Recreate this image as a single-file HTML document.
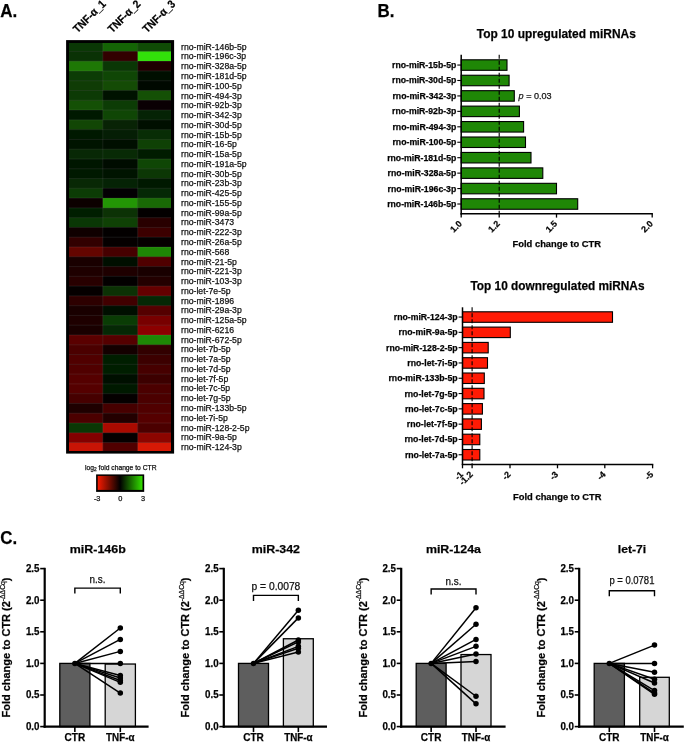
<!DOCTYPE html>
<html><head><meta charset="utf-8"><style>
html,body{margin:0;padding:0;background:#fff;}
svg{display:block;will-change:transform;}
text{font-family:"Liberation Sans",sans-serif;stroke:#111;stroke-width:0.25px;}
</style></head><body>
<svg width="685" height="742" viewBox="0 0 685 742" font-family="Liberation Sans, sans-serif">
<rect width="685" height="742" fill="#fff"/>
<text x="0.30" y="17.30" font-size="17.8" font-weight="bold" textLength="17.00" lengthAdjust="spacingAndGlyphs">A.</text>
<text x="377.60" y="17.30" font-size="17.8" font-weight="bold" textLength="16.90" lengthAdjust="spacingAndGlyphs">B.</text>
<text x="0.20" y="544.30" font-size="18.2" font-weight="bold" textLength="16.90" lengthAdjust="spacingAndGlyphs">C.</text>
<defs><clipPath id="hc"><rect x="69.1" y="43.0" width="101.9" height="408.0"/></clipPath></defs>
<rect x="66.1" y="40.1" width="108.0" height="413.5" fill="#000"/>
<g clip-path="url(#hc)">
<rect x="67.90" y="41.64" width="34.95" height="9.83" fill="rgb(10, 55, 5)"/>
<rect x="102.80" y="41.64" width="34.95" height="9.83" fill="rgb(20, 100, 5)"/>
<rect x="137.70" y="41.64" width="34.95" height="9.83" fill="rgb(15, 75, 5)"/>
<rect x="67.90" y="51.42" width="34.95" height="9.83" fill="rgb(10, 50, 5)"/>
<rect x="102.80" y="51.42" width="34.95" height="9.83" fill="rgb(50, 0, 0)"/>
<rect x="137.70" y="51.42" width="34.95" height="9.83" fill="rgb(50, 225, 10)"/>
<rect x="67.90" y="61.20" width="34.95" height="9.83" fill="rgb(30, 120, 5)"/>
<rect x="102.80" y="61.20" width="34.95" height="9.83" fill="rgb(10, 55, 5)"/>
<rect x="137.70" y="61.20" width="34.95" height="9.83" fill="rgb(30, 0, 0)"/>
<rect x="67.90" y="70.98" width="34.95" height="9.83" fill="rgb(12, 60, 5)"/>
<rect x="102.80" y="70.98" width="34.95" height="9.83" fill="rgb(15, 70, 5)"/>
<rect x="137.70" y="70.98" width="34.95" height="9.83" fill="rgb(0, 15, 0)"/>
<rect x="67.90" y="80.76" width="34.95" height="9.83" fill="rgb(15, 60, 5)"/>
<rect x="102.80" y="80.76" width="34.95" height="9.83" fill="rgb(20, 75, 5)"/>
<rect x="137.70" y="80.76" width="34.95" height="9.83" fill="rgb(0, 8, 0)"/>
<rect x="67.90" y="90.53" width="34.95" height="9.83" fill="rgb(12, 58, 5)"/>
<rect x="102.80" y="90.53" width="34.95" height="9.83" fill="rgb(0, 18, 0)"/>
<rect x="137.70" y="90.53" width="34.95" height="9.83" fill="rgb(20, 80, 5)"/>
<rect x="67.90" y="100.31" width="34.95" height="9.83" fill="rgb(20, 80, 5)"/>
<rect x="102.80" y="100.31" width="34.95" height="9.83" fill="rgb(12, 60, 5)"/>
<rect x="137.70" y="100.31" width="34.95" height="9.83" fill="rgb(10, 0, 3)"/>
<rect x="67.90" y="110.09" width="34.95" height="9.83" fill="rgb(0, 25, 0)"/>
<rect x="102.80" y="110.09" width="34.95" height="9.83" fill="rgb(15, 70, 5)"/>
<rect x="137.70" y="110.09" width="34.95" height="9.83" fill="rgb(5, 35, 5)"/>
<rect x="67.90" y="119.87" width="34.95" height="9.83" fill="rgb(18, 70, 5)"/>
<rect x="102.80" y="119.87" width="34.95" height="9.83" fill="rgb(8, 35, 5)"/>
<rect x="137.70" y="119.87" width="34.95" height="9.83" fill="rgb(0, 15, 0)"/>
<rect x="67.90" y="129.65" width="34.95" height="9.83" fill="rgb(0, 25, 0)"/>
<rect x="102.80" y="129.65" width="34.95" height="9.83" fill="rgb(5, 30, 5)"/>
<rect x="137.70" y="129.65" width="34.95" height="9.83" fill="rgb(8, 45, 5)"/>
<rect x="67.90" y="139.43" width="34.95" height="9.83" fill="rgb(0, 20, 0)"/>
<rect x="102.80" y="139.43" width="34.95" height="9.83" fill="rgb(0, 15, 0)"/>
<rect x="137.70" y="139.43" width="34.95" height="9.83" fill="rgb(15, 65, 5)"/>
<rect x="67.90" y="149.21" width="34.95" height="9.83" fill="rgb(8, 40, 5)"/>
<rect x="102.80" y="149.21" width="34.95" height="9.83" fill="rgb(8, 42, 5)"/>
<rect x="137.70" y="149.21" width="34.95" height="9.83" fill="rgb(0, 28, 0)"/>
<rect x="67.90" y="158.99" width="34.95" height="9.83" fill="rgb(0, 22, 0)"/>
<rect x="102.80" y="158.99" width="34.95" height="9.83" fill="rgb(0, 12, 0)"/>
<rect x="137.70" y="158.99" width="34.95" height="9.83" fill="rgb(15, 70, 5)"/>
<rect x="67.90" y="168.77" width="34.95" height="9.83" fill="rgb(0, 25, 0)"/>
<rect x="102.80" y="168.77" width="34.95" height="9.83" fill="rgb(0, 20, 0)"/>
<rect x="137.70" y="168.77" width="34.95" height="9.83" fill="rgb(12, 55, 5)"/>
<rect x="67.90" y="178.55" width="34.95" height="9.83" fill="rgb(8, 40, 5)"/>
<rect x="102.80" y="178.55" width="34.95" height="9.83" fill="rgb(5, 35, 5)"/>
<rect x="137.70" y="178.55" width="34.95" height="9.83" fill="rgb(0, 25, 0)"/>
<rect x="67.90" y="188.32" width="34.95" height="9.83" fill="rgb(12, 60, 5)"/>
<rect x="102.80" y="188.32" width="34.95" height="9.83" fill="rgb(3, 0, 3)"/>
<rect x="137.70" y="188.32" width="34.95" height="9.83" fill="rgb(5, 40, 5)"/>
<rect x="67.90" y="198.10" width="34.95" height="9.83" fill="rgb(12, 0, 0)"/>
<rect x="102.80" y="198.10" width="34.95" height="9.83" fill="rgb(35, 150, 5)"/>
<rect x="137.70" y="198.10" width="34.95" height="9.83" fill="rgb(25, 105, 5)"/>
<rect x="67.90" y="207.88" width="34.95" height="9.83" fill="rgb(0, 30, 0)"/>
<rect x="102.80" y="207.88" width="34.95" height="9.83" fill="rgb(12, 50, 5)"/>
<rect x="137.70" y="207.88" width="34.95" height="9.83" fill="rgb(3, 0, 0)"/>
<rect x="67.90" y="217.66" width="34.95" height="9.83" fill="rgb(10, 55, 5)"/>
<rect x="102.80" y="217.66" width="34.95" height="9.83" fill="rgb(15, 65, 5)"/>
<rect x="137.70" y="217.66" width="34.95" height="9.83" fill="rgb(40, 0, 0)"/>
<rect x="67.90" y="227.44" width="34.95" height="9.83" fill="rgb(15, 0, 0)"/>
<rect x="102.80" y="227.44" width="34.95" height="9.83" fill="rgb(3, 0, 0)"/>
<rect x="137.70" y="227.44" width="34.95" height="9.83" fill="rgb(60, 0, 0)"/>
<rect x="67.90" y="237.22" width="34.95" height="9.83" fill="rgb(50, 0, 0)"/>
<rect x="102.80" y="237.22" width="34.95" height="9.83" fill="rgb(5, 0, 0)"/>
<rect x="137.70" y="237.22" width="34.95" height="9.83" fill="rgb(5, 0, 0)"/>
<rect x="67.90" y="247.00" width="34.95" height="9.83" fill="rgb(100, 5, 0)"/>
<rect x="102.80" y="247.00" width="34.95" height="9.83" fill="rgb(70, 0, 0)"/>
<rect x="137.70" y="247.00" width="34.95" height="9.83" fill="rgb(30, 135, 5)"/>
<rect x="67.90" y="256.78" width="34.95" height="9.83" fill="rgb(25, 0, 0)"/>
<rect x="102.80" y="256.78" width="34.95" height="9.83" fill="rgb(0, 15, 0)"/>
<rect x="137.70" y="256.78" width="34.95" height="9.83" fill="rgb(80, 0, 0)"/>
<rect x="67.90" y="266.56" width="34.95" height="9.83" fill="rgb(30, 0, 0)"/>
<rect x="102.80" y="266.56" width="34.95" height="9.83" fill="rgb(30, 0, 0)"/>
<rect x="137.70" y="266.56" width="34.95" height="9.83" fill="rgb(25, 0, 0)"/>
<rect x="67.90" y="276.34" width="34.95" height="9.83" fill="rgb(40, 0, 0)"/>
<rect x="102.80" y="276.34" width="34.95" height="9.83" fill="rgb(3, 0, 0)"/>
<rect x="137.70" y="276.34" width="34.95" height="9.83" fill="rgb(35, 0, 0)"/>
<rect x="67.90" y="286.12" width="34.95" height="9.83" fill="rgb(5, 0, 0)"/>
<rect x="102.80" y="286.12" width="34.95" height="9.83" fill="rgb(12, 50, 5)"/>
<rect x="137.70" y="286.12" width="34.95" height="9.83" fill="rgb(100, 0, 0)"/>
<rect x="67.90" y="295.89" width="34.95" height="9.83" fill="rgb(45, 0, 0)"/>
<rect x="102.80" y="295.89" width="34.95" height="9.83" fill="rgb(65, 0, 0)"/>
<rect x="137.70" y="295.89" width="34.95" height="9.83" fill="rgb(5, 40, 5)"/>
<rect x="67.90" y="305.67" width="34.95" height="9.83" fill="rgb(25, 0, 0)"/>
<rect x="102.80" y="305.67" width="34.95" height="9.83" fill="rgb(0, 15, 0)"/>
<rect x="137.70" y="305.67" width="34.95" height="9.83" fill="rgb(85, 0, 0)"/>
<rect x="67.90" y="315.45" width="34.95" height="9.83" fill="rgb(30, 0, 0)"/>
<rect x="102.80" y="315.45" width="34.95" height="9.83" fill="rgb(10, 60, 5)"/>
<rect x="137.70" y="315.45" width="34.95" height="9.83" fill="rgb(120, 0, 0)"/>
<rect x="67.90" y="325.23" width="34.95" height="9.83" fill="rgb(25, 0, 0)"/>
<rect x="102.80" y="325.23" width="34.95" height="9.83" fill="rgb(5, 40, 5)"/>
<rect x="137.70" y="325.23" width="34.95" height="9.83" fill="rgb(140, 0, 0)"/>
<rect x="67.90" y="335.01" width="34.95" height="9.83" fill="rgb(90, 0, 0)"/>
<rect x="102.80" y="335.01" width="34.95" height="9.83" fill="rgb(85, 0, 0)"/>
<rect x="137.70" y="335.01" width="34.95" height="9.83" fill="rgb(30, 135, 5)"/>
<rect x="67.90" y="344.79" width="34.95" height="9.83" fill="rgb(75, 0, 0)"/>
<rect x="102.80" y="344.79" width="34.95" height="9.83" fill="rgb(20, 0, 0)"/>
<rect x="137.70" y="344.79" width="34.95" height="9.83" fill="rgb(50, 0, 0)"/>
<rect x="67.90" y="354.57" width="34.95" height="9.83" fill="rgb(80, 0, 0)"/>
<rect x="102.80" y="354.57" width="34.95" height="9.83" fill="rgb(0, 30, 0)"/>
<rect x="137.70" y="354.57" width="34.95" height="9.83" fill="rgb(60, 0, 0)"/>
<rect x="67.90" y="364.35" width="34.95" height="9.83" fill="rgb(80, 0, 0)"/>
<rect x="102.80" y="364.35" width="34.95" height="9.83" fill="rgb(0, 30, 0)"/>
<rect x="137.70" y="364.35" width="34.95" height="9.83" fill="rgb(70, 0, 0)"/>
<rect x="67.90" y="374.13" width="34.95" height="9.83" fill="rgb(85, 0, 0)"/>
<rect x="102.80" y="374.13" width="34.95" height="9.83" fill="rgb(0, 15, 0)"/>
<rect x="137.70" y="374.13" width="34.95" height="9.83" fill="rgb(60, 0, 0)"/>
<rect x="67.90" y="383.90" width="34.95" height="9.83" fill="rgb(85, 0, 0)"/>
<rect x="102.80" y="383.90" width="34.95" height="9.83" fill="rgb(0, 25, 0)"/>
<rect x="137.70" y="383.90" width="34.95" height="9.83" fill="rgb(75, 0, 0)"/>
<rect x="67.90" y="393.68" width="34.95" height="9.83" fill="rgb(70, 0, 0)"/>
<rect x="102.80" y="393.68" width="34.95" height="9.83" fill="rgb(5, 0, 0)"/>
<rect x="137.70" y="393.68" width="34.95" height="9.83" fill="rgb(75, 0, 0)"/>
<rect x="67.90" y="403.46" width="34.95" height="9.83" fill="rgb(30, 0, 0)"/>
<rect x="102.80" y="403.46" width="34.95" height="9.83" fill="rgb(70, 0, 0)"/>
<rect x="137.70" y="403.46" width="34.95" height="9.83" fill="rgb(80, 0, 0)"/>
<rect x="67.90" y="413.24" width="34.95" height="9.83" fill="rgb(75, 0, 0)"/>
<rect x="102.80" y="413.24" width="34.95" height="9.83" fill="rgb(35, 0, 0)"/>
<rect x="137.70" y="413.24" width="34.95" height="9.83" fill="rgb(85, 0, 0)"/>
<rect x="67.90" y="423.02" width="34.95" height="9.83" fill="rgb(10, 55, 5)"/>
<rect x="102.80" y="423.02" width="34.95" height="9.83" fill="rgb(170, 10, 0)"/>
<rect x="137.70" y="423.02" width="34.95" height="9.83" fill="rgb(75, 0, 0)"/>
<rect x="67.90" y="432.80" width="34.95" height="9.83" fill="rgb(130, 0, 0)"/>
<rect x="102.80" y="432.80" width="34.95" height="9.83" fill="rgb(5, 0, 0)"/>
<rect x="137.70" y="432.80" width="34.95" height="9.83" fill="rgb(140, 5, 0)"/>
<rect x="67.90" y="442.58" width="34.95" height="9.83" fill="rgb(200, 20, 5)"/>
<rect x="102.80" y="442.58" width="34.95" height="9.83" fill="rgb(80, 0, 0)"/>
<rect x="137.70" y="442.58" width="34.95" height="9.83" fill="rgb(215, 25, 5)"/>
<line x1="67.9" x2="172.6" y1="51.42" y2="51.42" stroke="rgba(255,255,255,0.11)" stroke-width="0.8"/>
<line x1="67.9" x2="172.6" y1="61.20" y2="61.20" stroke="rgba(255,255,255,0.11)" stroke-width="0.8"/>
<line x1="67.9" x2="172.6" y1="70.98" y2="70.98" stroke="rgba(255,255,255,0.11)" stroke-width="0.8"/>
<line x1="67.9" x2="172.6" y1="80.76" y2="80.76" stroke="rgba(255,255,255,0.11)" stroke-width="0.8"/>
<line x1="67.9" x2="172.6" y1="90.53" y2="90.53" stroke="rgba(255,255,255,0.11)" stroke-width="0.8"/>
<line x1="67.9" x2="172.6" y1="100.31" y2="100.31" stroke="rgba(255,255,255,0.11)" stroke-width="0.8"/>
<line x1="67.9" x2="172.6" y1="110.09" y2="110.09" stroke="rgba(255,255,255,0.11)" stroke-width="0.8"/>
<line x1="67.9" x2="172.6" y1="119.87" y2="119.87" stroke="rgba(255,255,255,0.11)" stroke-width="0.8"/>
<line x1="67.9" x2="172.6" y1="129.65" y2="129.65" stroke="rgba(255,255,255,0.11)" stroke-width="0.8"/>
<line x1="67.9" x2="172.6" y1="139.43" y2="139.43" stroke="rgba(255,255,255,0.11)" stroke-width="0.8"/>
<line x1="67.9" x2="172.6" y1="149.21" y2="149.21" stroke="rgba(255,255,255,0.11)" stroke-width="0.8"/>
<line x1="67.9" x2="172.6" y1="158.99" y2="158.99" stroke="rgba(255,255,255,0.11)" stroke-width="0.8"/>
<line x1="67.9" x2="172.6" y1="168.77" y2="168.77" stroke="rgba(255,255,255,0.11)" stroke-width="0.8"/>
<line x1="67.9" x2="172.6" y1="178.55" y2="178.55" stroke="rgba(255,255,255,0.11)" stroke-width="0.8"/>
<line x1="67.9" x2="172.6" y1="188.32" y2="188.32" stroke="rgba(255,255,255,0.11)" stroke-width="0.8"/>
<line x1="67.9" x2="172.6" y1="198.10" y2="198.10" stroke="rgba(255,255,255,0.11)" stroke-width="0.8"/>
<line x1="67.9" x2="172.6" y1="207.88" y2="207.88" stroke="rgba(255,255,255,0.11)" stroke-width="0.8"/>
<line x1="67.9" x2="172.6" y1="217.66" y2="217.66" stroke="rgba(255,255,255,0.11)" stroke-width="0.8"/>
<line x1="67.9" x2="172.6" y1="227.44" y2="227.44" stroke="rgba(255,255,255,0.11)" stroke-width="0.8"/>
<line x1="67.9" x2="172.6" y1="237.22" y2="237.22" stroke="rgba(255,255,255,0.11)" stroke-width="0.8"/>
<line x1="67.9" x2="172.6" y1="247.00" y2="247.00" stroke="rgba(255,255,255,0.11)" stroke-width="0.8"/>
<line x1="67.9" x2="172.6" y1="256.78" y2="256.78" stroke="rgba(255,255,255,0.11)" stroke-width="0.8"/>
<line x1="67.9" x2="172.6" y1="266.56" y2="266.56" stroke="rgba(255,255,255,0.11)" stroke-width="0.8"/>
<line x1="67.9" x2="172.6" y1="276.34" y2="276.34" stroke="rgba(255,255,255,0.11)" stroke-width="0.8"/>
<line x1="67.9" x2="172.6" y1="286.12" y2="286.12" stroke="rgba(255,255,255,0.11)" stroke-width="0.8"/>
<line x1="67.9" x2="172.6" y1="295.89" y2="295.89" stroke="rgba(255,255,255,0.11)" stroke-width="0.8"/>
<line x1="67.9" x2="172.6" y1="305.67" y2="305.67" stroke="rgba(255,255,255,0.11)" stroke-width="0.8"/>
<line x1="67.9" x2="172.6" y1="315.45" y2="315.45" stroke="rgba(255,255,255,0.11)" stroke-width="0.8"/>
<line x1="67.9" x2="172.6" y1="325.23" y2="325.23" stroke="rgba(255,255,255,0.11)" stroke-width="0.8"/>
<line x1="67.9" x2="172.6" y1="335.01" y2="335.01" stroke="rgba(255,255,255,0.11)" stroke-width="0.8"/>
<line x1="67.9" x2="172.6" y1="344.79" y2="344.79" stroke="rgba(255,255,255,0.11)" stroke-width="0.8"/>
<line x1="67.9" x2="172.6" y1="354.57" y2="354.57" stroke="rgba(255,255,255,0.11)" stroke-width="0.8"/>
<line x1="67.9" x2="172.6" y1="364.35" y2="364.35" stroke="rgba(255,255,255,0.11)" stroke-width="0.8"/>
<line x1="67.9" x2="172.6" y1="374.13" y2="374.13" stroke="rgba(255,255,255,0.11)" stroke-width="0.8"/>
<line x1="67.9" x2="172.6" y1="383.90" y2="383.90" stroke="rgba(255,255,255,0.11)" stroke-width="0.8"/>
<line x1="67.9" x2="172.6" y1="393.68" y2="393.68" stroke="rgba(255,255,255,0.11)" stroke-width="0.8"/>
<line x1="67.9" x2="172.6" y1="403.46" y2="403.46" stroke="rgba(255,255,255,0.11)" stroke-width="0.8"/>
<line x1="67.9" x2="172.6" y1="413.24" y2="413.24" stroke="rgba(255,255,255,0.11)" stroke-width="0.8"/>
<line x1="67.9" x2="172.6" y1="423.02" y2="423.02" stroke="rgba(255,255,255,0.11)" stroke-width="0.8"/>
<line x1="67.9" x2="172.6" y1="432.80" y2="432.80" stroke="rgba(255,255,255,0.11)" stroke-width="0.8"/>
<line x1="67.9" x2="172.6" y1="442.58" y2="442.58" stroke="rgba(255,255,255,0.11)" stroke-width="0.8"/>
<line y1="41.64" y2="452.358" x1="102.80" x2="102.80" stroke="rgba(255,255,255,0.11)" stroke-width="0.8"/>
<line y1="41.64" y2="452.358" x1="137.70" x2="137.70" stroke="rgba(255,255,255,0.11)" stroke-width="0.8"/>
</g>
<text x="181.00" y="49.70" font-size="9.0" textLength="65.60" lengthAdjust="spacingAndGlyphs" fill="#111">rno-miR-146b-5p</text>
<text x="181.00" y="59.47" font-size="9.0" textLength="65.11" lengthAdjust="spacingAndGlyphs" fill="#111">rno-miR-196c-3p</text>
<text x="181.00" y="69.23" font-size="9.0" textLength="65.60" lengthAdjust="spacingAndGlyphs" fill="#111">rno-miR-328a-5p</text>
<text x="181.00" y="79.00" font-size="9.0" textLength="65.60" lengthAdjust="spacingAndGlyphs" fill="#111">rno-miR-181d-5p</text>
<text x="181.00" y="88.76" font-size="9.0" textLength="60.77" lengthAdjust="spacingAndGlyphs" fill="#111">rno-miR-100-5p</text>
<text x="181.00" y="98.53" font-size="9.0" textLength="60.77" lengthAdjust="spacingAndGlyphs" fill="#111">rno-miR-494-3p</text>
<text x="181.00" y="108.29" font-size="9.0" textLength="60.77" lengthAdjust="spacingAndGlyphs" fill="#111">rno-miR-92b-3p</text>
<text x="181.00" y="118.06" font-size="9.0" textLength="60.77" lengthAdjust="spacingAndGlyphs" fill="#111">rno-miR-342-3p</text>
<text x="181.00" y="127.82" font-size="9.0" textLength="60.77" lengthAdjust="spacingAndGlyphs" fill="#111">rno-miR-30d-5p</text>
<text x="181.00" y="137.59" font-size="9.0" textLength="60.77" lengthAdjust="spacingAndGlyphs" fill="#111">rno-miR-15b-5p</text>
<text x="181.00" y="147.35" font-size="9.0" textLength="55.95" lengthAdjust="spacingAndGlyphs" fill="#111">rno-miR-16-5p</text>
<text x="181.00" y="157.12" font-size="9.0" textLength="60.77" lengthAdjust="spacingAndGlyphs" fill="#111">rno-miR-15a-5p</text>
<text x="181.00" y="166.88" font-size="9.0" textLength="65.60" lengthAdjust="spacingAndGlyphs" fill="#111">rno-miR-191a-5p</text>
<text x="181.00" y="176.65" font-size="9.0" textLength="60.77" lengthAdjust="spacingAndGlyphs" fill="#111">rno-miR-30b-5p</text>
<text x="181.00" y="186.41" font-size="9.0" textLength="60.77" lengthAdjust="spacingAndGlyphs" fill="#111">rno-miR-23b-3p</text>
<text x="181.00" y="196.18" font-size="9.0" textLength="60.77" lengthAdjust="spacingAndGlyphs" fill="#111">rno-miR-425-5p</text>
<text x="181.00" y="205.94" font-size="9.0" textLength="60.77" lengthAdjust="spacingAndGlyphs" fill="#111">rno-miR-155-5p</text>
<text x="181.00" y="215.70" font-size="9.0" textLength="60.77" lengthAdjust="spacingAndGlyphs" fill="#111">rno-miR-99a-5p</text>
<text x="181.00" y="225.47" font-size="9.0" textLength="53.06" lengthAdjust="spacingAndGlyphs" fill="#111">rno-miR-3473</text>
<text x="181.00" y="235.24" font-size="9.0" textLength="60.77" lengthAdjust="spacingAndGlyphs" fill="#111">rno-miR-222-3p</text>
<text x="181.00" y="245.00" font-size="9.0" textLength="60.77" lengthAdjust="spacingAndGlyphs" fill="#111">rno-miR-26a-5p</text>
<text x="181.00" y="254.76" font-size="9.0" textLength="48.23" lengthAdjust="spacingAndGlyphs" fill="#111">rno-miR-568</text>
<text x="181.00" y="264.53" font-size="9.0" textLength="55.95" lengthAdjust="spacingAndGlyphs" fill="#111">rno-miR-21-5p</text>
<text x="181.00" y="274.30" font-size="9.0" textLength="60.77" lengthAdjust="spacingAndGlyphs" fill="#111">rno-miR-221-3p</text>
<text x="181.00" y="284.06" font-size="9.0" textLength="60.77" lengthAdjust="spacingAndGlyphs" fill="#111">rno-miR-103-3p</text>
<text x="181.00" y="293.82" font-size="9.0" textLength="49.69" lengthAdjust="spacingAndGlyphs" fill="#111">rno-let-7e-5p</text>
<text x="181.00" y="303.59" font-size="9.0" textLength="53.06" lengthAdjust="spacingAndGlyphs" fill="#111">rno-miR-1896</text>
<text x="181.00" y="313.36" font-size="9.0" textLength="60.77" lengthAdjust="spacingAndGlyphs" fill="#111">rno-miR-29a-3p</text>
<text x="181.00" y="323.12" font-size="9.0" textLength="65.60" lengthAdjust="spacingAndGlyphs" fill="#111">rno-miR-125a-5p</text>
<text x="181.00" y="332.88" font-size="9.0" textLength="53.06" lengthAdjust="spacingAndGlyphs" fill="#111">rno-miR-6216</text>
<text x="181.00" y="342.65" font-size="9.0" textLength="60.77" lengthAdjust="spacingAndGlyphs" fill="#111">rno-miR-672-5p</text>
<text x="181.00" y="352.42" font-size="9.0" textLength="49.69" lengthAdjust="spacingAndGlyphs" fill="#111">rno-let-7b-5p</text>
<text x="181.00" y="362.18" font-size="9.0" textLength="49.69" lengthAdjust="spacingAndGlyphs" fill="#111">rno-let-7a-5p</text>
<text x="181.00" y="371.94" font-size="9.0" textLength="49.69" lengthAdjust="spacingAndGlyphs" fill="#111">rno-let-7d-5p</text>
<text x="181.00" y="381.71" font-size="9.0" textLength="47.27" lengthAdjust="spacingAndGlyphs" fill="#111">rno-let-7f-5p</text>
<text x="181.00" y="391.48" font-size="9.0" textLength="49.20" lengthAdjust="spacingAndGlyphs" fill="#111">rno-let-7c-5p</text>
<text x="181.00" y="401.24" font-size="9.0" textLength="49.69" lengthAdjust="spacingAndGlyphs" fill="#111">rno-let-7g-5p</text>
<text x="181.00" y="411.00" font-size="9.0" textLength="65.60" lengthAdjust="spacingAndGlyphs" fill="#111">rno-miR-133b-5p</text>
<text x="181.00" y="420.77" font-size="9.0" textLength="46.79" lengthAdjust="spacingAndGlyphs" fill="#111">rno-let-7i-5p</text>
<text x="181.00" y="430.54" font-size="9.0" textLength="68.49" lengthAdjust="spacingAndGlyphs" fill="#111">rno-miR-128-2-5p</text>
<text x="181.00" y="440.30" font-size="9.0" textLength="55.95" lengthAdjust="spacingAndGlyphs" fill="#111">rno-miR-9a-5p</text>
<text x="181.00" y="450.06" font-size="9.0" textLength="60.77" lengthAdjust="spacingAndGlyphs" fill="#111">rno-miR-124-3p</text>
<text transform="translate(77.6,33.6) rotate(-45)" font-size="11.2" font-weight="bold" textLength="41" lengthAdjust="spacingAndGlyphs">TNF-α_1</text>
<text transform="translate(112.3,33.6) rotate(-45)" font-size="11.2" font-weight="bold" textLength="41" lengthAdjust="spacingAndGlyphs">TNF-α_2</text>
<text transform="translate(147.0,33.6) rotate(-45)" font-size="11.2" font-weight="bold" textLength="41" lengthAdjust="spacingAndGlyphs">TNF-α_3</text>
<text x="85" y="469.7" font-size="7" textLength="71.6" lengthAdjust="spacingAndGlyphs" fill="#111">log<tspan font-size="5" dy="1.4">2</tspan><tspan dy="-1.4"> fold change to CTR</tspan></text>
<defs><linearGradient id="lg" x1="0" x2="1" y1="0" y2="0"><stop offset="0" stop-color="#f51a00"/><stop offset="0.5" stop-color="#000"/><stop offset="1" stop-color="#33e000"/></linearGradient></defs>
<rect x="96.1" y="474.4" width="48.1" height="17.5" fill="#000"/>
<rect x="97.7" y="475.9" width="44.8" height="14.0" fill="url(#lg)"/>
<text x="97.20" y="501.20" font-size="7.4" text-anchor="middle" fill="#111">-3</text>
<text x="120.30" y="501.20" font-size="7.4" text-anchor="middle" fill="#111">0</text>
<text x="143.00" y="501.20" font-size="7.4" text-anchor="middle" fill="#111">3</text>
<text x="556.30" y="37.70" font-size="12.2" font-weight="bold" text-anchor="middle" textLength="159.00" lengthAdjust="spacingAndGlyphs">Top 10 upregulated miRNAs</text>
<rect x="461.2" y="59.80" width="45.80" height="10.5" fill="#1f8706" stroke="#000" stroke-width="1.1"/>
<line x1="457.3" x2="461.2" y1="65.05" y2="65.05" stroke="#000" stroke-width="1.1"/>
<text x="456.30" y="68.05" font-size="8.5" font-weight="bold" text-anchor="end" textLength="64.30" lengthAdjust="spacingAndGlyphs">rno-miR-15b-5p</text>
<rect x="461.2" y="75.24" width="47.90" height="10.5" fill="#1f8706" stroke="#000" stroke-width="1.1"/>
<line x1="457.3" x2="461.2" y1="80.49" y2="80.49" stroke="#000" stroke-width="1.1"/>
<text x="456.30" y="83.49" font-size="8.5" font-weight="bold" text-anchor="end" textLength="64.30" lengthAdjust="spacingAndGlyphs">rno-miR-30d-5p</text>
<rect x="461.2" y="90.68" width="53.10" height="10.5" fill="#1f8706" stroke="#000" stroke-width="1.1"/>
<line x1="457.3" x2="461.2" y1="95.93" y2="95.93" stroke="#000" stroke-width="1.1"/>
<text x="456.30" y="98.93" font-size="8.5" font-weight="bold" text-anchor="end" textLength="63.82" lengthAdjust="spacingAndGlyphs">rno-miR-342-3p</text>
<rect x="461.2" y="106.12" width="58.20" height="10.5" fill="#1f8706" stroke="#000" stroke-width="1.1"/>
<line x1="457.3" x2="461.2" y1="111.37" y2="111.37" stroke="#000" stroke-width="1.1"/>
<text x="456.30" y="114.37" font-size="8.5" font-weight="bold" text-anchor="end" textLength="64.30" lengthAdjust="spacingAndGlyphs">rno-miR-92b-3p</text>
<rect x="461.2" y="121.56" width="62.40" height="10.5" fill="#1f8706" stroke="#000" stroke-width="1.1"/>
<line x1="457.3" x2="461.2" y1="126.81" y2="126.81" stroke="#000" stroke-width="1.1"/>
<text x="456.30" y="129.81" font-size="8.5" font-weight="bold" text-anchor="end" textLength="63.82" lengthAdjust="spacingAndGlyphs">rno-miR-494-3p</text>
<rect x="461.2" y="137.00" width="64.30" height="10.5" fill="#1f8706" stroke="#000" stroke-width="1.1"/>
<line x1="457.3" x2="461.2" y1="142.25" y2="142.25" stroke="#000" stroke-width="1.1"/>
<text x="456.30" y="145.25" font-size="8.5" font-weight="bold" text-anchor="end" textLength="63.82" lengthAdjust="spacingAndGlyphs">rno-miR-100-5p</text>
<rect x="461.2" y="152.44" width="69.80" height="10.5" fill="#1f8706" stroke="#000" stroke-width="1.1"/>
<line x1="457.3" x2="461.2" y1="157.69" y2="157.69" stroke="#000" stroke-width="1.1"/>
<text x="456.30" y="160.69" font-size="8.5" font-weight="bold" text-anchor="end" textLength="69.14" lengthAdjust="spacingAndGlyphs">rno-miR-181d-5p</text>
<rect x="461.2" y="167.88" width="81.60" height="10.5" fill="#1f8706" stroke="#000" stroke-width="1.1"/>
<line x1="457.3" x2="461.2" y1="173.13" y2="173.13" stroke="#000" stroke-width="1.1"/>
<text x="456.30" y="176.13" font-size="8.5" font-weight="bold" text-anchor="end" textLength="68.66" lengthAdjust="spacingAndGlyphs">rno-miR-328a-5p</text>
<rect x="461.2" y="183.32" width="95.30" height="10.5" fill="#1f8706" stroke="#000" stroke-width="1.1"/>
<line x1="457.3" x2="461.2" y1="188.57" y2="188.57" stroke="#000" stroke-width="1.1"/>
<text x="456.30" y="191.57" font-size="8.5" font-weight="bold" text-anchor="end" textLength="68.66" lengthAdjust="spacingAndGlyphs">rno-miR-196c-3p</text>
<rect x="461.2" y="198.76" width="116.50" height="10.5" fill="#1f8706" stroke="#000" stroke-width="1.1"/>
<line x1="457.3" x2="461.2" y1="204.01" y2="204.01" stroke="#000" stroke-width="1.1"/>
<text x="456.30" y="207.01" font-size="8.5" font-weight="bold" text-anchor="end" textLength="69.14" lengthAdjust="spacingAndGlyphs">rno-miR-146b-5p</text>
<line x1="461.2" x2="461.2" y1="54.7" y2="214.4" stroke="#000" stroke-width="1.5"/>
<line x1="460.5" x2="652.9" y1="213.8" y2="213.8" stroke="#000" stroke-width="1.5"/>
<line x1="499.2" x2="499.2" y1="54.7" y2="213.8" stroke="#000" stroke-width="1.1" stroke-dasharray="4 2"/>
<line x1="461.2" x2="461.2" y1="213.8" y2="217.60000000000002" stroke="#000" stroke-width="1.3"/>
<text transform="translate(462.5,224.3) rotate(-45)" font-size="8.8" font-weight="bold" text-anchor="end">1.0</text>
<line x1="499.2" x2="499.2" y1="213.8" y2="217.60000000000002" stroke="#000" stroke-width="1.3"/>
<text transform="translate(500.5,224.3) rotate(-45)" font-size="8.8" font-weight="bold" text-anchor="end">1.2</text>
<line x1="556.5" x2="556.5" y1="213.8" y2="217.60000000000002" stroke="#000" stroke-width="1.3"/>
<text transform="translate(557.8,224.3) rotate(-45)" font-size="8.8" font-weight="bold" text-anchor="end">1.5</text>
<line x1="652.2" x2="652.2" y1="213.8" y2="217.60000000000002" stroke="#000" stroke-width="1.3"/>
<text transform="translate(653.5,224.3) rotate(-45)" font-size="8.8" font-weight="bold" text-anchor="end">2.0</text>
<text x="556.80" y="247.40" font-size="9.4" font-weight="bold" text-anchor="middle" textLength="88.50" lengthAdjust="spacingAndGlyphs">Fold change to CTR</text>
<text x="518.6" y="98.6" font-size="8.6" fill="#222" textLength="33" lengthAdjust="spacingAndGlyphs"><tspan font-style="italic">p</tspan> = 0.03</text>
<text x="557.50" y="289.90" font-size="12.2" font-weight="bold" text-anchor="middle" textLength="174.00" lengthAdjust="spacingAndGlyphs">Top 10 downregulated miRNAs</text>
<rect x="462.5" y="311.80" width="150.00" height="10.5" fill="#ff1a04" stroke="#000" stroke-width="1.1"/>
<line x1="458.6" x2="462.5" y1="317.05" y2="317.05" stroke="#000" stroke-width="1.1"/>
<text x="457.60" y="320.05" font-size="8.5" font-weight="bold" text-anchor="end" textLength="63.82" lengthAdjust="spacingAndGlyphs">rno-miR-124-3p</text>
<rect x="462.5" y="327.10" width="47.80" height="10.5" fill="#ff1a04" stroke="#000" stroke-width="1.1"/>
<line x1="458.6" x2="462.5" y1="332.35" y2="332.35" stroke="#000" stroke-width="1.1"/>
<text x="457.60" y="335.35" font-size="8.5" font-weight="bold" text-anchor="end" textLength="58.98" lengthAdjust="spacingAndGlyphs">rno-miR-9a-5p</text>
<rect x="462.5" y="342.40" width="25.70" height="10.5" fill="#ff1a04" stroke="#000" stroke-width="1.1"/>
<line x1="458.6" x2="462.5" y1="347.65" y2="347.65" stroke="#000" stroke-width="1.1"/>
<text x="457.60" y="350.65" font-size="8.5" font-weight="bold" text-anchor="end" textLength="71.56" lengthAdjust="spacingAndGlyphs">rno-miR-128-2-5p</text>
<rect x="462.5" y="357.70" width="25.00" height="10.5" fill="#ff1a04" stroke="#000" stroke-width="1.1"/>
<line x1="458.6" x2="462.5" y1="362.95" y2="362.95" stroke="#000" stroke-width="1.1"/>
<text x="457.60" y="365.95" font-size="8.5" font-weight="bold" text-anchor="end" textLength="50.28" lengthAdjust="spacingAndGlyphs">rno-let-7i-5p</text>
<rect x="462.5" y="373.00" width="21.80" height="10.5" fill="#ff1a04" stroke="#000" stroke-width="1.1"/>
<line x1="458.6" x2="462.5" y1="378.25" y2="378.25" stroke="#000" stroke-width="1.1"/>
<text x="457.60" y="381.25" font-size="8.5" font-weight="bold" text-anchor="end" textLength="69.14" lengthAdjust="spacingAndGlyphs">rno-miR-133b-5p</text>
<rect x="462.5" y="388.30" width="21.50" height="10.5" fill="#ff1a04" stroke="#000" stroke-width="1.1"/>
<line x1="458.6" x2="462.5" y1="393.55" y2="393.55" stroke="#000" stroke-width="1.1"/>
<text x="457.60" y="396.55" font-size="8.5" font-weight="bold" text-anchor="end" textLength="53.17" lengthAdjust="spacingAndGlyphs">rno-let-7g-5p</text>
<rect x="462.5" y="403.60" width="19.90" height="10.5" fill="#ff1a04" stroke="#000" stroke-width="1.1"/>
<line x1="458.6" x2="462.5" y1="408.85" y2="408.85" stroke="#000" stroke-width="1.1"/>
<text x="457.60" y="411.85" font-size="8.5" font-weight="bold" text-anchor="end" textLength="52.70" lengthAdjust="spacingAndGlyphs">rno-let-7c-5p</text>
<rect x="462.5" y="418.90" width="18.90" height="10.5" fill="#ff1a04" stroke="#000" stroke-width="1.1"/>
<line x1="458.6" x2="462.5" y1="424.15" y2="424.15" stroke="#000" stroke-width="1.1"/>
<text x="457.60" y="427.15" font-size="8.5" font-weight="bold" text-anchor="end" textLength="50.76" lengthAdjust="spacingAndGlyphs">rno-let-7f-5p</text>
<rect x="462.5" y="434.20" width="17.30" height="10.5" fill="#ff1a04" stroke="#000" stroke-width="1.1"/>
<line x1="458.6" x2="462.5" y1="439.45" y2="439.45" stroke="#000" stroke-width="1.1"/>
<text x="457.60" y="442.45" font-size="8.5" font-weight="bold" text-anchor="end" textLength="53.17" lengthAdjust="spacingAndGlyphs">rno-let-7d-5p</text>
<rect x="462.5" y="449.50" width="17.30" height="10.5" fill="#ff1a04" stroke="#000" stroke-width="1.1"/>
<line x1="458.6" x2="462.5" y1="454.75" y2="454.75" stroke="#000" stroke-width="1.1"/>
<text x="457.60" y="457.75" font-size="8.5" font-weight="bold" text-anchor="end" textLength="52.70" lengthAdjust="spacingAndGlyphs">rno-let-7a-5p</text>
<line x1="462.5" x2="462.5" y1="307.3" y2="465.1" stroke="#000" stroke-width="1.5"/>
<line x1="461.8" x2="653.3" y1="464.5" y2="464.5" stroke="#000" stroke-width="1.5"/>
<line x1="472.1" x2="472.1" y1="307.3" y2="464.5" stroke="#000" stroke-width="1.1" stroke-dasharray="4 2"/>
<line x1="462.5" x2="462.5" y1="464.5" y2="468.3" stroke="#000" stroke-width="1.3"/>
<text transform="translate(463.8,475.0) rotate(-45)" font-size="8.8" font-weight="bold" text-anchor="end">-1</text>
<line x1="472.1" x2="472.1" y1="464.5" y2="468.3" stroke="#000" stroke-width="1.3"/>
<text transform="translate(473.40000000000003,475.0) rotate(-45)" font-size="8.8" font-weight="bold" text-anchor="end">-1.2</text>
<line x1="510" x2="510" y1="464.5" y2="468.3" stroke="#000" stroke-width="1.3"/>
<text transform="translate(511.3,475.0) rotate(-45)" font-size="8.8" font-weight="bold" text-anchor="end">-2</text>
<line x1="557.5" x2="557.5" y1="464.5" y2="468.3" stroke="#000" stroke-width="1.3"/>
<text transform="translate(558.8,475.0) rotate(-45)" font-size="8.8" font-weight="bold" text-anchor="end">-3</text>
<line x1="604.8" x2="604.8" y1="464.5" y2="468.3" stroke="#000" stroke-width="1.3"/>
<text transform="translate(606.0999999999999,475.0) rotate(-45)" font-size="8.8" font-weight="bold" text-anchor="end">-4</text>
<line x1="652.6" x2="652.6" y1="464.5" y2="468.3" stroke="#000" stroke-width="1.3"/>
<text transform="translate(653.9,475.0) rotate(-45)" font-size="8.8" font-weight="bold" text-anchor="end">-5</text>
<text x="557.30" y="499.60" font-size="9.4" font-weight="bold" text-anchor="middle" textLength="88.50" lengthAdjust="spacingAndGlyphs">Fold change to CTR</text>
<text x="97.80" y="553.10" font-size="11.6" font-weight="bold" text-anchor="middle" textLength="56.00" lengthAdjust="spacingAndGlyphs">miR-146b</text>
<rect x="59.8" y="663.40" width="30.10" height="63.20" fill="#5e5e5e" stroke="#000" stroke-width="1.3"/>
<rect x="105.2" y="664.03" width="30.20" height="62.57" fill="#d6d6d6" stroke="#000" stroke-width="1.3"/>
<line x1="74.85" y1="663.40" x2="120.30" y2="628.01" stroke="#000" stroke-width="1.5"/>
<line x1="74.85" y1="663.40" x2="120.30" y2="639.38" stroke="#000" stroke-width="1.5"/>
<line x1="74.85" y1="663.40" x2="120.30" y2="651.39" stroke="#000" stroke-width="1.5"/>
<line x1="74.85" y1="663.40" x2="120.30" y2="663.40" stroke="#000" stroke-width="1.5"/>
<line x1="74.85" y1="663.40" x2="120.30" y2="675.41" stroke="#000" stroke-width="1.5"/>
<line x1="74.85" y1="663.40" x2="120.30" y2="677.94" stroke="#000" stroke-width="1.5"/>
<line x1="74.85" y1="663.40" x2="120.30" y2="680.46" stroke="#000" stroke-width="1.5"/>
<line x1="74.85" y1="663.40" x2="120.30" y2="682.36" stroke="#000" stroke-width="1.5"/>
<line x1="74.85" y1="663.40" x2="120.30" y2="693.10" stroke="#000" stroke-width="1.5"/>
<circle cx="74.85" cy="663.40" r="2.75" fill="#000"/>
<circle cx="120.30" cy="628.01" r="2.75" fill="#000"/>
<circle cx="120.30" cy="639.38" r="2.75" fill="#000"/>
<circle cx="120.30" cy="651.39" r="2.75" fill="#000"/>
<circle cx="120.30" cy="663.40" r="2.75" fill="#000"/>
<circle cx="120.30" cy="675.41" r="2.75" fill="#000"/>
<circle cx="120.30" cy="677.94" r="2.75" fill="#000"/>
<circle cx="120.30" cy="680.46" r="2.75" fill="#000"/>
<circle cx="120.30" cy="682.36" r="2.75" fill="#000"/>
<circle cx="120.30" cy="693.10" r="2.75" fill="#000"/>
<line x1="44.7" x2="44.7" y1="567.80" y2="727.70" stroke="#000" stroke-width="2.2"/>
<line x1="43.6" x2="148.6" y1="726.6" y2="726.6" stroke="#000" stroke-width="2.2"/>
<line x1="40.2" x2="44.7" y1="726.60" y2="726.60" stroke="#000" stroke-width="1.6"/>
<text x="39.50" y="730.00" font-size="10.2" font-weight="bold" text-anchor="end" textLength="13.60" lengthAdjust="spacingAndGlyphs">0.0</text>
<line x1="40.2" x2="44.7" y1="695.00" y2="695.00" stroke="#000" stroke-width="1.6"/>
<text x="39.50" y="698.40" font-size="10.2" font-weight="bold" text-anchor="end" textLength="13.60" lengthAdjust="spacingAndGlyphs">0.5</text>
<line x1="40.2" x2="44.7" y1="663.40" y2="663.40" stroke="#000" stroke-width="1.6"/>
<text x="39.50" y="666.80" font-size="10.2" font-weight="bold" text-anchor="end" textLength="13.60" lengthAdjust="spacingAndGlyphs">1.0</text>
<line x1="40.2" x2="44.7" y1="631.80" y2="631.80" stroke="#000" stroke-width="1.6"/>
<text x="39.50" y="635.20" font-size="10.2" font-weight="bold" text-anchor="end" textLength="13.60" lengthAdjust="spacingAndGlyphs">1.5</text>
<line x1="40.2" x2="44.7" y1="600.20" y2="600.20" stroke="#000" stroke-width="1.6"/>
<text x="39.50" y="603.60" font-size="10.2" font-weight="bold" text-anchor="end" textLength="13.60" lengthAdjust="spacingAndGlyphs">2.0</text>
<line x1="40.2" x2="44.7" y1="568.60" y2="568.60" stroke="#000" stroke-width="1.6"/>
<text x="39.50" y="572.00" font-size="10.2" font-weight="bold" text-anchor="end" textLength="13.60" lengthAdjust="spacingAndGlyphs">2.5</text>
<line x1="74.85" x2="74.85" y1="726.6" y2="732.1" stroke="#000" stroke-width="1.6"/>
<text x="74.85" y="741.10" font-size="10.6" font-weight="bold" text-anchor="middle" textLength="20.60" lengthAdjust="spacingAndGlyphs">CTR</text>
<line x1="120.30" x2="120.30" y1="726.6" y2="732.1" stroke="#000" stroke-width="1.6"/>
<text x="120.30" y="741.10" font-size="10.6" font-weight="bold" text-anchor="middle" textLength="28.40" lengthAdjust="spacingAndGlyphs">TNF-α</text>
<path d="M74.85,593.6 V588.1 H120.30 V593.6" fill="none" stroke="#000" stroke-width="1.4"/>
<text x="97.58" y="582.60" font-size="10.2" text-anchor="middle" textLength="16.00" lengthAdjust="spacingAndGlyphs" fill="#111">n.s.</text>
<text transform="translate(10.10,717.4) rotate(-90)" font-size="11" font-weight="bold"><tspan textLength="116.2" lengthAdjust="spacingAndGlyphs">Fold change to CTR (2</tspan><tspan font-size="6.8" font-weight="normal" dy="-5.2">-ΔΔCq</tspan><tspan dy="5.2">)</tspan></text>
<text x="275.90" y="553.10" font-size="11.6" font-weight="bold" text-anchor="middle" textLength="48.20" lengthAdjust="spacingAndGlyphs">miR-342</text>
<rect x="238.5" y="663.40" width="30.00" height="63.20" fill="#5e5e5e" stroke="#000" stroke-width="1.3"/>
<rect x="283.4" y="638.75" width="29.90" height="87.85" fill="#d6d6d6" stroke="#000" stroke-width="1.3"/>
<line x1="253.50" y1="663.40" x2="298.35" y2="610.31" stroke="#000" stroke-width="1.5"/>
<line x1="253.50" y1="663.40" x2="298.35" y2="617.90" stroke="#000" stroke-width="1.5"/>
<line x1="253.50" y1="663.40" x2="298.35" y2="640.02" stroke="#000" stroke-width="1.5"/>
<line x1="253.50" y1="663.40" x2="298.35" y2="641.91" stroke="#000" stroke-width="1.5"/>
<line x1="253.50" y1="663.40" x2="298.35" y2="646.34" stroke="#000" stroke-width="1.5"/>
<line x1="253.50" y1="663.40" x2="298.35" y2="648.23" stroke="#000" stroke-width="1.5"/>
<line x1="253.50" y1="663.40" x2="298.35" y2="652.02" stroke="#000" stroke-width="1.5"/>
<circle cx="253.50" cy="663.40" r="2.75" fill="#000"/>
<circle cx="298.35" cy="610.31" r="2.75" fill="#000"/>
<circle cx="298.35" cy="617.90" r="2.75" fill="#000"/>
<circle cx="298.35" cy="640.02" r="2.75" fill="#000"/>
<circle cx="298.35" cy="641.91" r="2.75" fill="#000"/>
<circle cx="298.35" cy="646.34" r="2.75" fill="#000"/>
<circle cx="298.35" cy="648.23" r="2.75" fill="#000"/>
<circle cx="298.35" cy="652.02" r="2.75" fill="#000"/>
<line x1="223.8" x2="223.8" y1="567.80" y2="727.70" stroke="#000" stroke-width="2.2"/>
<line x1="222.70000000000002" x2="327" y1="726.6" y2="726.6" stroke="#000" stroke-width="2.2"/>
<line x1="219.3" x2="223.8" y1="726.60" y2="726.60" stroke="#000" stroke-width="1.6"/>
<text x="218.60" y="730.00" font-size="10.2" font-weight="bold" text-anchor="end" textLength="13.60" lengthAdjust="spacingAndGlyphs">0.0</text>
<line x1="219.3" x2="223.8" y1="695.00" y2="695.00" stroke="#000" stroke-width="1.6"/>
<text x="218.60" y="698.40" font-size="10.2" font-weight="bold" text-anchor="end" textLength="13.60" lengthAdjust="spacingAndGlyphs">0.5</text>
<line x1="219.3" x2="223.8" y1="663.40" y2="663.40" stroke="#000" stroke-width="1.6"/>
<text x="218.60" y="666.80" font-size="10.2" font-weight="bold" text-anchor="end" textLength="13.60" lengthAdjust="spacingAndGlyphs">1.0</text>
<line x1="219.3" x2="223.8" y1="631.80" y2="631.80" stroke="#000" stroke-width="1.6"/>
<text x="218.60" y="635.20" font-size="10.2" font-weight="bold" text-anchor="end" textLength="13.60" lengthAdjust="spacingAndGlyphs">1.5</text>
<line x1="219.3" x2="223.8" y1="600.20" y2="600.20" stroke="#000" stroke-width="1.6"/>
<text x="218.60" y="603.60" font-size="10.2" font-weight="bold" text-anchor="end" textLength="13.60" lengthAdjust="spacingAndGlyphs">2.0</text>
<line x1="219.3" x2="223.8" y1="568.60" y2="568.60" stroke="#000" stroke-width="1.6"/>
<text x="218.60" y="572.00" font-size="10.2" font-weight="bold" text-anchor="end" textLength="13.60" lengthAdjust="spacingAndGlyphs">2.5</text>
<line x1="253.50" x2="253.50" y1="726.6" y2="732.1" stroke="#000" stroke-width="1.6"/>
<text x="253.50" y="741.10" font-size="10.6" font-weight="bold" text-anchor="middle" textLength="20.60" lengthAdjust="spacingAndGlyphs">CTR</text>
<line x1="298.35" x2="298.35" y1="726.6" y2="732.1" stroke="#000" stroke-width="1.6"/>
<text x="298.35" y="741.10" font-size="10.6" font-weight="bold" text-anchor="middle" textLength="28.40" lengthAdjust="spacingAndGlyphs">TNF-α</text>
<path d="M253.50,600.9 V595.4 H298.35 V600.9" fill="none" stroke="#000" stroke-width="1.4"/>
<text x="275.93" y="589.90" font-size="10.2" text-anchor="middle" textLength="48.80" lengthAdjust="spacingAndGlyphs" fill="#111">p = 0.0078</text>
<text transform="translate(189.20,717.4) rotate(-90)" font-size="11" font-weight="bold"><tspan textLength="116.2" lengthAdjust="spacingAndGlyphs">Fold change to CTR (2</tspan><tspan font-size="6.8" font-weight="normal" dy="-5.2">-ΔΔCq</tspan><tspan dy="5.2">)</tspan></text>
<text x="453.40" y="553.10" font-size="11.6" font-weight="bold" text-anchor="middle" textLength="55.00" lengthAdjust="spacingAndGlyphs">miR-124a</text>
<rect x="416.2" y="663.40" width="29.90" height="63.20" fill="#5e5e5e" stroke="#000" stroke-width="1.3"/>
<rect x="461" y="654.55" width="30.00" height="72.05" fill="#d6d6d6" stroke="#000" stroke-width="1.3"/>
<line x1="431.15" y1="663.40" x2="476.00" y2="607.78" stroke="#000" stroke-width="1.5"/>
<line x1="431.15" y1="663.40" x2="476.00" y2="624.22" stroke="#000" stroke-width="1.5"/>
<line x1="431.15" y1="663.40" x2="476.00" y2="639.38" stroke="#000" stroke-width="1.5"/>
<line x1="431.15" y1="663.40" x2="476.00" y2="646.34" stroke="#000" stroke-width="1.5"/>
<line x1="431.15" y1="663.40" x2="476.00" y2="653.92" stroke="#000" stroke-width="1.5"/>
<line x1="431.15" y1="663.40" x2="476.00" y2="661.50" stroke="#000" stroke-width="1.5"/>
<line x1="431.15" y1="663.40" x2="476.00" y2="696.26" stroke="#000" stroke-width="1.5"/>
<line x1="431.15" y1="663.40" x2="476.00" y2="703.85" stroke="#000" stroke-width="1.5"/>
<circle cx="431.15" cy="663.40" r="2.75" fill="#000"/>
<circle cx="476.00" cy="607.78" r="2.75" fill="#000"/>
<circle cx="476.00" cy="624.22" r="2.75" fill="#000"/>
<circle cx="476.00" cy="639.38" r="2.75" fill="#000"/>
<circle cx="476.00" cy="646.34" r="2.75" fill="#000"/>
<circle cx="476.00" cy="653.92" r="2.75" fill="#000"/>
<circle cx="476.00" cy="661.50" r="2.75" fill="#000"/>
<circle cx="476.00" cy="696.26" r="2.75" fill="#000"/>
<circle cx="476.00" cy="703.85" r="2.75" fill="#000"/>
<line x1="401.2" x2="401.2" y1="567.80" y2="727.70" stroke="#000" stroke-width="2.2"/>
<line x1="400.09999999999997" x2="505.6" y1="726.6" y2="726.6" stroke="#000" stroke-width="2.2"/>
<line x1="396.7" x2="401.2" y1="726.60" y2="726.60" stroke="#000" stroke-width="1.6"/>
<text x="396.00" y="730.00" font-size="10.2" font-weight="bold" text-anchor="end" textLength="13.60" lengthAdjust="spacingAndGlyphs">0.0</text>
<line x1="396.7" x2="401.2" y1="695.00" y2="695.00" stroke="#000" stroke-width="1.6"/>
<text x="396.00" y="698.40" font-size="10.2" font-weight="bold" text-anchor="end" textLength="13.60" lengthAdjust="spacingAndGlyphs">0.5</text>
<line x1="396.7" x2="401.2" y1="663.40" y2="663.40" stroke="#000" stroke-width="1.6"/>
<text x="396.00" y="666.80" font-size="10.2" font-weight="bold" text-anchor="end" textLength="13.60" lengthAdjust="spacingAndGlyphs">1.0</text>
<line x1="396.7" x2="401.2" y1="631.80" y2="631.80" stroke="#000" stroke-width="1.6"/>
<text x="396.00" y="635.20" font-size="10.2" font-weight="bold" text-anchor="end" textLength="13.60" lengthAdjust="spacingAndGlyphs">1.5</text>
<line x1="396.7" x2="401.2" y1="600.20" y2="600.20" stroke="#000" stroke-width="1.6"/>
<text x="396.00" y="603.60" font-size="10.2" font-weight="bold" text-anchor="end" textLength="13.60" lengthAdjust="spacingAndGlyphs">2.0</text>
<line x1="396.7" x2="401.2" y1="568.60" y2="568.60" stroke="#000" stroke-width="1.6"/>
<text x="396.00" y="572.00" font-size="10.2" font-weight="bold" text-anchor="end" textLength="13.60" lengthAdjust="spacingAndGlyphs">2.5</text>
<line x1="431.15" x2="431.15" y1="726.6" y2="732.1" stroke="#000" stroke-width="1.6"/>
<text x="431.15" y="741.10" font-size="10.6" font-weight="bold" text-anchor="middle" textLength="20.60" lengthAdjust="spacingAndGlyphs">CTR</text>
<line x1="476.00" x2="476.00" y1="726.6" y2="732.1" stroke="#000" stroke-width="1.6"/>
<text x="476.00" y="741.10" font-size="10.6" font-weight="bold" text-anchor="middle" textLength="28.40" lengthAdjust="spacingAndGlyphs">TNF-α</text>
<path d="M431.15,594.5 V589.0 H476.00 V594.5" fill="none" stroke="#000" stroke-width="1.4"/>
<text x="453.57" y="584.60" font-size="10.2" text-anchor="middle" textLength="16.00" lengthAdjust="spacingAndGlyphs" fill="#111">n.s.</text>
<text transform="translate(366.60,717.4) rotate(-90)" font-size="11" font-weight="bold"><tspan textLength="116.2" lengthAdjust="spacingAndGlyphs">Fold change to CTR (2</tspan><tspan font-size="6.8" font-weight="normal" dy="-5.2">-ΔΔCq</tspan><tspan dy="5.2">)</tspan></text>
<text x="632.00" y="553.10" font-size="11.6" font-weight="bold" text-anchor="middle" textLength="28.40" lengthAdjust="spacingAndGlyphs">let-7i</text>
<rect x="594.2" y="663.40" width="30.20" height="63.20" fill="#5e5e5e" stroke="#000" stroke-width="1.3"/>
<rect x="639.7" y="677.30" width="29.60" height="49.30" fill="#d6d6d6" stroke="#000" stroke-width="1.3"/>
<line x1="609.30" y1="663.40" x2="654.50" y2="645.07" stroke="#000" stroke-width="1.5"/>
<line x1="609.30" y1="663.40" x2="654.50" y2="663.40" stroke="#000" stroke-width="1.5"/>
<line x1="609.30" y1="663.40" x2="654.50" y2="672.25" stroke="#000" stroke-width="1.5"/>
<line x1="609.30" y1="663.40" x2="654.50" y2="679.20" stroke="#000" stroke-width="1.5"/>
<line x1="609.30" y1="663.40" x2="654.50" y2="682.99" stroke="#000" stroke-width="1.5"/>
<line x1="609.30" y1="663.40" x2="654.50" y2="690.58" stroke="#000" stroke-width="1.5"/>
<line x1="609.30" y1="663.40" x2="654.50" y2="693.10" stroke="#000" stroke-width="1.5"/>
<line x1="609.30" y1="663.40" x2="654.50" y2="694.37" stroke="#000" stroke-width="1.5"/>
<circle cx="609.30" cy="663.40" r="2.75" fill="#000"/>
<circle cx="654.50" cy="645.07" r="2.75" fill="#000"/>
<circle cx="654.50" cy="663.40" r="2.75" fill="#000"/>
<circle cx="654.50" cy="672.25" r="2.75" fill="#000"/>
<circle cx="654.50" cy="679.20" r="2.75" fill="#000"/>
<circle cx="654.50" cy="682.99" r="2.75" fill="#000"/>
<circle cx="654.50" cy="690.58" r="2.75" fill="#000"/>
<circle cx="654.50" cy="693.10" r="2.75" fill="#000"/>
<circle cx="654.50" cy="694.37" r="2.75" fill="#000"/>
<line x1="579.2" x2="579.2" y1="567.80" y2="727.70" stroke="#000" stroke-width="2.2"/>
<line x1="578.1" x2="683.8" y1="726.6" y2="726.6" stroke="#000" stroke-width="2.2"/>
<line x1="574.7" x2="579.2" y1="726.60" y2="726.60" stroke="#000" stroke-width="1.6"/>
<text x="574.00" y="730.00" font-size="10.2" font-weight="bold" text-anchor="end" textLength="13.60" lengthAdjust="spacingAndGlyphs">0.0</text>
<line x1="574.7" x2="579.2" y1="695.00" y2="695.00" stroke="#000" stroke-width="1.6"/>
<text x="574.00" y="698.40" font-size="10.2" font-weight="bold" text-anchor="end" textLength="13.60" lengthAdjust="spacingAndGlyphs">0.5</text>
<line x1="574.7" x2="579.2" y1="663.40" y2="663.40" stroke="#000" stroke-width="1.6"/>
<text x="574.00" y="666.80" font-size="10.2" font-weight="bold" text-anchor="end" textLength="13.60" lengthAdjust="spacingAndGlyphs">1.0</text>
<line x1="574.7" x2="579.2" y1="631.80" y2="631.80" stroke="#000" stroke-width="1.6"/>
<text x="574.00" y="635.20" font-size="10.2" font-weight="bold" text-anchor="end" textLength="13.60" lengthAdjust="spacingAndGlyphs">1.5</text>
<line x1="574.7" x2="579.2" y1="600.20" y2="600.20" stroke="#000" stroke-width="1.6"/>
<text x="574.00" y="603.60" font-size="10.2" font-weight="bold" text-anchor="end" textLength="13.60" lengthAdjust="spacingAndGlyphs">2.0</text>
<line x1="574.7" x2="579.2" y1="568.60" y2="568.60" stroke="#000" stroke-width="1.6"/>
<text x="574.00" y="572.00" font-size="10.2" font-weight="bold" text-anchor="end" textLength="13.60" lengthAdjust="spacingAndGlyphs">2.5</text>
<line x1="609.30" x2="609.30" y1="726.6" y2="732.1" stroke="#000" stroke-width="1.6"/>
<text x="609.30" y="741.10" font-size="10.6" font-weight="bold" text-anchor="middle" textLength="20.60" lengthAdjust="spacingAndGlyphs">CTR</text>
<line x1="654.50" x2="654.50" y1="726.6" y2="732.1" stroke="#000" stroke-width="1.6"/>
<text x="654.50" y="741.10" font-size="10.6" font-weight="bold" text-anchor="middle" textLength="28.40" lengthAdjust="spacingAndGlyphs">TNF-α</text>
<path d="M609.30,596.3 V590.8 H654.50 V596.3" fill="none" stroke="#000" stroke-width="1.4"/>
<text x="631.90" y="583.50" font-size="10.2" text-anchor="middle" textLength="45.00" lengthAdjust="spacingAndGlyphs" fill="#111">p = 0.0781</text>
<text transform="translate(544.60,717.4) rotate(-90)" font-size="11" font-weight="bold"><tspan textLength="116.2" lengthAdjust="spacingAndGlyphs">Fold change to CTR (2</tspan><tspan font-size="6.8" font-weight="normal" dy="-5.2">-ΔΔCq</tspan><tspan dy="5.2">)</tspan></text>
</svg></body></html>
